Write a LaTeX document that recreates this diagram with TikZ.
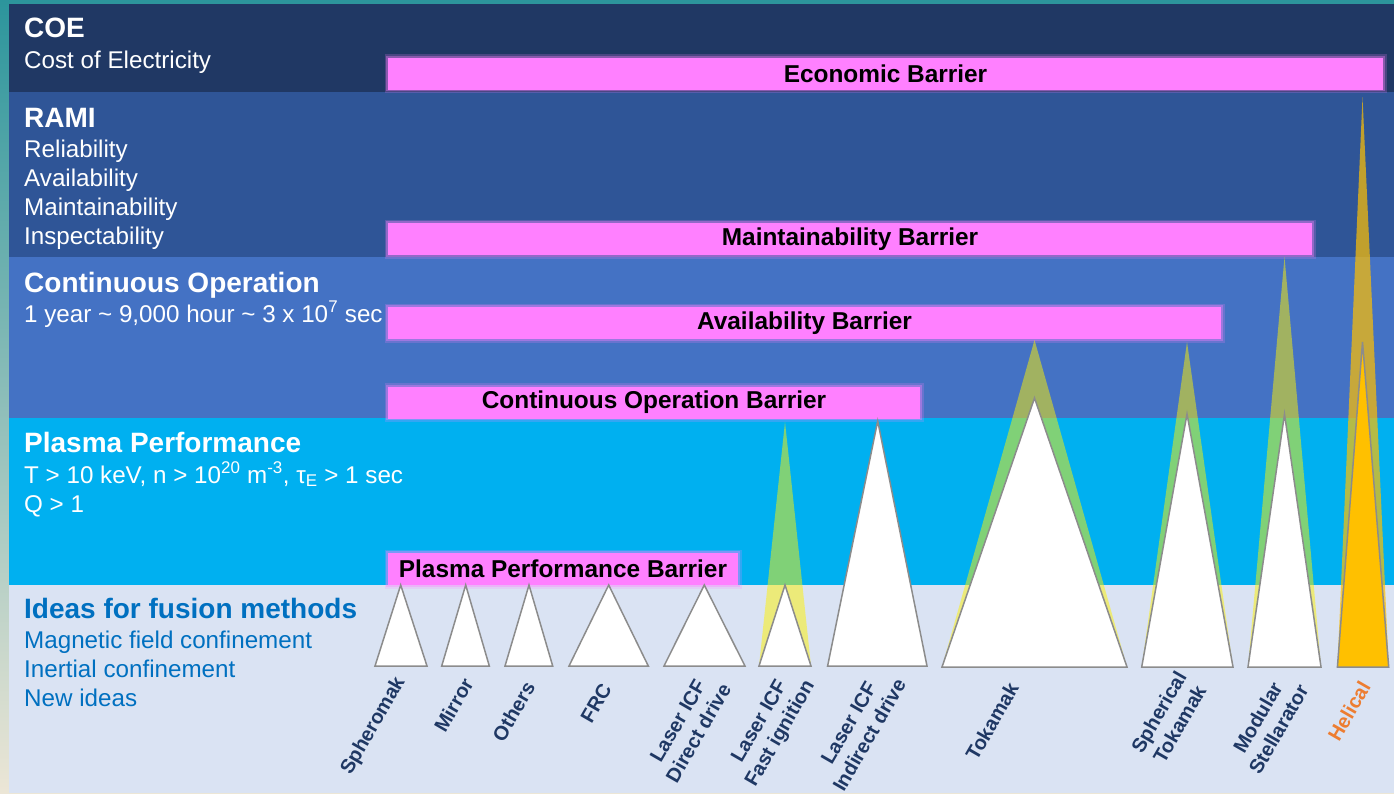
\documentclass[tikz,border=0pt]{standalone}
\usepackage{fontspec}
\setmainfont{Liberation Sans}

\definecolor{coeblue}{HTML}{203864}
\definecolor{ramiblue}{HTML}{2F5597}
\definecolor{opblue}{HTML}{4472C4}
\definecolor{plasmablue}{HTML}{00B0F0}
\definecolor{ideasblue}{HTML}{DAE3F3}
\definecolor{barpink}{HTML}{FF80FF}
\definecolor{labelnavy}{HTML}{1F3864}
\definecolor{textblue}{HTML}{0070C0}
\definecolor{helorange}{HTML}{ED7D31}
\definecolor{gold}{HTML}{FFC000}
\definecolor{trigray}{HTML}{8C8C8C}
\definecolor{edgeteal}{HTML}{2C959C}
\definecolor{edgesand}{HTML}{ECE6D6}

\begin{document}
\begin{tikzpicture}[
    x=1pt, y=-1pt,
    head/.style={anchor=base west, inner sep=0pt, text=white,
        font=\bfseries\fontsize{28}{30}\selectfont},
    sub/.style={anchor=base west, inner sep=0pt, text=white,
        font=\fontsize{24.2}{29}\selectfont},
    barrier/.style={fill=barpink, minimum height=32pt, inner sep=0pt,
        font=\bfseries\fontsize{24.4}{27}\selectfont,
        preaction={draw=barpink, line width=7pt, opacity=0.2},
        preaction={draw=barpink, line width=3.5pt, opacity=0.35}},
    method/.style={rotate=60, align=center, inner sep=0pt, text=labelnavy,
        font=\bfseries\fontsize{20}{24}\selectfont},
    tri/.style={fill=white, draw=trigray, line width=1.5pt},
    reach/.style={fill=yellow, opacity=0.5}
]
    \useasboundingbox (0,0) rectangle (1394,793);
    \shade[top color=edgeteal, bottom color=edgesand] (0,0) rectangle (1394,793);

    % Bands
    \fill[coeblue]    (9,4)   rectangle (1394,92);
    \fill[ramiblue]   (9,92)  rectangle (1394,257);
    \fill[opblue]     (9,257) rectangle (1394,418);
    \fill[plasmablue] (9,418) rectangle (1394,585);
    \fill[ideasblue]  (9,585) rectangle (1394,793);

    % Section texts
    \node[head] (coe) at (24,37) {COE};
    \node[sub] (coe1) at (24,68) {Cost of Electricity};

    \node[head] (rami) at (24,127) {RAMI};
    \node[sub] (rami1) at (24,157) {Reliability};
    \node[sub] (rami2) at (24,186) {Availability};
    \node[sub] (rami3) at (24,215) {Maintainability};
    \node[sub] (rami4) at (24,244) {Inspectability};

    \node[head] (contop) at (24,292) {Continuous Operation};
    \node[sub] (contop1) at (24,322)
        {1 year \textasciitilde{} 9,000 hour \textasciitilde{} 3 x 10\textsuperscript{7} sec};

    \node[head] (plasma) at (24,452) {Plasma Performance};
    \node[sub] (plasma1) at (24,483)
        {T > 10 keV, n > 10\textsuperscript{20} m\textsuperscript{-3}, τ\textsubscript{E} > 1 sec};
    \node[sub] (plasma2) at (24,512) {Q > 1};

    \node[head, text=textblue] (ideas) at (24,618) {Ideas for fusion methods};
    \node[sub, text=textblue] (ideas1) at (24,648) {Magnetic field confinement};
    \node[sub, text=textblue] (ideas2) at (24,677) {Inertial confinement};
    \node[sub, text=textblue] (ideas3) at (24,706) {New ideas};

    % Barriers
    \node[barrier, minimum width=995pt] (econ)  at (885.5,73.5) {Economic Barrier};
    \node[barrier, minimum width=924pt] (maint) at (850,239)    {Maintainability Barrier};
    \node[barrier, minimum width=833pt] (avail) at (804.5,323)  {Availability Barrier};
    \node[barrier, minimum width=532pt] (cont)  at (654,402.5)  {Continuous Operation Barrier};
    \node[barrier, minimum width=350pt] (perf)  at (563,569)    {Plasma Performance Barrier};

    % Reach of each concept
    \fill[reach] (759,666) -- (785,422) -- (811,666) -- cycle;
    \fill[reach] (942,667) -- (1034.5,340) -- (1127,667) -- cycle;
    \fill[reach] (1141.7,667) -- (1187,342) -- (1233,667) -- cycle;
    \fill[reach] (1248,667) -- (1284.5,257) -- (1321,667) -- cycle;
    \fill[gold, opacity=0.7] (1337.4,667) -- (1362.5,97) -- (1388.7,667) -- cycle;

    % Concepts
    \draw[tri] (375,666) -- (400.7,585) -- (427,666) -- cycle;
    \draw[tri] (441.7,666) -- (465.7,585) -- (489.3,666) -- cycle;
    \draw[tri] (505,666) -- (529,585) -- (552.7,666) -- cycle;
    \draw[tri] (569,666) -- (608.7,585) -- (648.3,666) -- cycle;
    \draw[tri] (664,666) -- (704.3,585) -- (745,666) -- cycle;
    \draw[tri] (759,666) -- (785,585) -- (811,666) -- cycle;
    \draw[tri] (827.6,666) -- (877.7,421) -- (927,666) -- cycle;
    \draw[tri] (942,667) -- (1034.5,398) -- (1127,667) -- cycle;
    \draw[tri] (1141.7,667) -- (1187,414) -- (1233,667) -- cycle;
    \draw[tri] (1248,667) -- (1284.5,414) -- (1321,667) -- cycle;
    \draw[tri, fill=gold] (1337.4,667) -- (1362.5,342) -- (1388.7,667) -- cycle;

    % Labels
    \node[method] (spheromak) at (373.5,726) {Spheromak};
    \node[method] (mirror)    at (453.5,705) {Mirror};
    \node[method] (others)    at (513.5,711.5) {Others};
    \node[method] (frc)       at (596,703) {FRC};
    \node[method] (direct)    at (688,727) {Laser ICF\\Direct drive};
    \node[method] (fast)      at (770.5,728) {Laser ICF\\Fast ignition};
    \node[method] (indirect)  at (859,729) {Laser ICF\\Indirect drive};
    \node[method] (tokamak)   at (992,721.5) {Tokamak};
    \node[method] (spherical) at (1169,718) {Spherical\\Tokamak};
    \node[method] (modular)   at (1268,723.5) {Modular\\Stellarator};
    \node[method, text=helorange] (helical) at (1349,711) {Helical};

\end{tikzpicture}
\end{document}
